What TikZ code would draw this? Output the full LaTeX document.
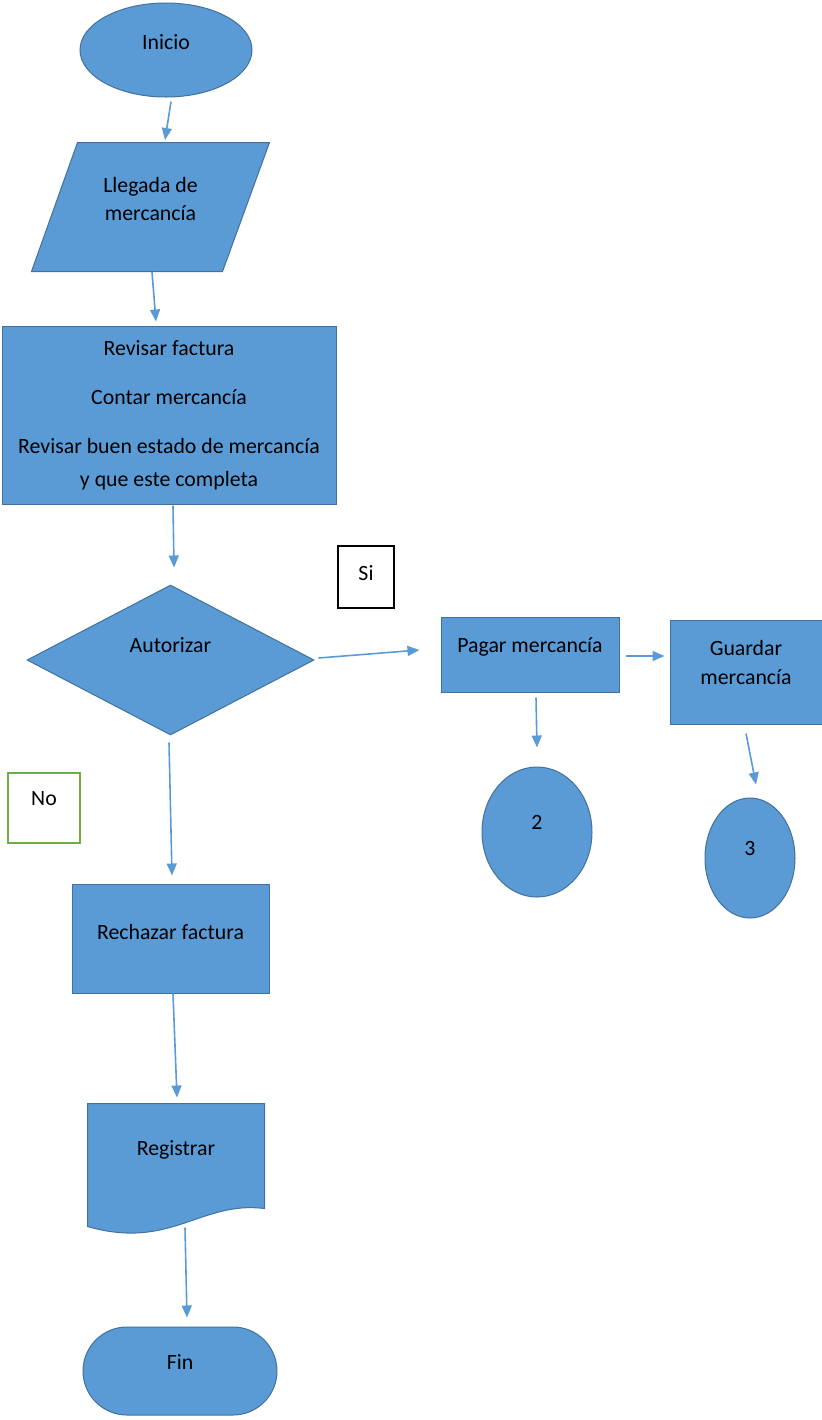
\documentclass[tikz,border=0pt]{standalone}
\usepackage{fontspec}
\setmainfont{Carlito}
\usepackage{tikz}
\usetikzlibrary{shapes.geometric, shapes.misc, arrows.meta, calc, backgrounds}

\definecolor{azul}{HTML}{5B9BD5}
\definecolor{borde}{HTML}{41719C}
\definecolor{verde}{HTML}{70AD47}

\tikzset{
    forma/.style={draw=borde, fill=azul, line width=0.5pt, text=black,
        font=\fontsize{10.9}{13}\selectfont, inner sep=0pt},
    lift/.style={text height=7.6pt, text depth=#1},
    etiqueta/.style={rectangle, fill=white, line width=0.7pt, text=black,
        font=\fontsize{10.9}{13}\selectfont, inner sep=0pt},
    flecha/.style={draw=azul, line width=0.8pt, -{Triangle[length=6pt,width=5pt]}}
}

\begin{document}
\begin{tikzpicture}[x=0.5pt, y=-0.5pt]
    \useasboundingbox (0,0) rectangle (822,1420);

    % MAIN COLUMN
    \node[forma, ellipse, minimum width=86pt, minimum height=47pt, lift=8.6pt] (inicio) at (166,50) {Inicio};
    \node[forma, rectangle, draw=none, fill=none, minimum width=118.5pt, minimum height=64pt, align=center]
        (llegada) at (150.5,207) {Llegada de\\[1pt]mercancía\\[-5pt]\mbox{}};
    \begin{scope}[on background layer]
        \draw[forma] ($(llegada.north west)+(46,0)$) -- (llegada.north east)
            -- ($(llegada.south east)+(-47,0)$) -- (llegada.south west) -- cycle;
    \end{scope}
    \node[forma, rectangle, minimum width=167pt, minimum height=89pt, align=center] (revisar) at (169,415)
        {Revisar factura\\[11.5pt]Contar mercancía\\[11.5pt]Revisar buen estado de mercancía\\[3.5pt]y que este completa};
    \node[forma, diamond, minimum width=143.5pt, minimum height=75pt, lift=15.6pt] (autorizar) at (170.5,660) {Autorizar};

    % SI branch
    \node[etiqueta, draw=black, minimum width=28pt, minimum height=31pt, lift=4.6pt] (si) at (366,577) {Si};
    \node[forma, rectangle, minimum width=89pt, minimum height=37.5pt, lift=10.1pt] (pagar) at (530,654.5) {Pagar mercancía};
    \node[forma, rectangle, minimum width=76pt, minimum height=52pt, align=center] (guardar) at (746,672)
        {Guardar\\[1.5pt]mercancía\\[-3.5pt]\mbox{}};
    \node[forma, ellipse, minimum width=55pt, minimum height=65pt, lift=10.6pt] (dos) at (537,832) {2};
    \node[forma, ellipse, minimum width=45pt, minimum height=60pt, lift=10.6pt] (tres) at (750,858) {3};

    % NO branch
    \node[etiqueta, draw=verde, minimum width=36pt, minimum height=35pt, lift=10.6pt] (no) at (44,808) {No};
    \node[forma, rectangle, minimum width=98.5pt, minimum height=54.5pt, lift=7.1pt] (rechazar) at (170.5,938.5) {Rechazar factura};
    \node[forma, rectangle, draw=none, fill=none, minimum width=88pt, minimum height=52pt, lift=8.6pt] (registrar) at (176,1156) {Registrar};
    \begin{scope}[on background layer]
        \draw[forma] (registrar.north west) -- (registrar.north east) -- (registrar.south east)
            .. controls ($(registrar.south east)+(-64,-8)$) and ($(registrar.south east)+(-94,42)$)
            .. ($(registrar.south west)+(0,18)$) -- cycle;
    \end{scope}
    \node[forma, rounded rectangle, minimum width=97pt, minimum height=44pt, lift=9.6pt] (fin) at (180,1371) {Fin};

    % ARROWS
    \draw[flecha] ($(inicio.south)+(5,4)$) -- ($(llegada.center)+(14.5,-67)$);
    \draw[flecha] ($(llegada.center)+(1.5,65)$) -- ($(revisar.north)+(-13,-4)$);
    \draw[flecha] ($(revisar.south)+(4,1)$) -- ($(autorizar.north)+(3.5,-17)$);
    \draw[flecha] ($(autorizar.east)+(4,-2)$) -- ($(pagar.west)+(-21,-4.5)$);
    \draw[flecha] ($(pagar.east)+(6,1.5)$) -- ($(guardar.west)+(-5,-16)$);
    \draw[flecha] ($(pagar.south)+(6,5)$) -- ($(dos.north)+(0,-19)$);
    \draw[flecha] ($(guardar.south)+(0,9)$) -- ($(tres.north)+(6,-13)$);
    \draw[flecha] ($(autorizar.south)+(-1.5,7)$) -- ($(rechazar.north)+(1.5,-8)$);
    \draw[flecha] ($(rechazar.south)+(2.5,0)$) -- ($(registrar.north)+(1,-6)$);
    \draw[flecha] ($(registrar.south)+(9,19)$) -- ($(fin.north)+(7,-9)$);
\end{tikzpicture}
\end{document}
